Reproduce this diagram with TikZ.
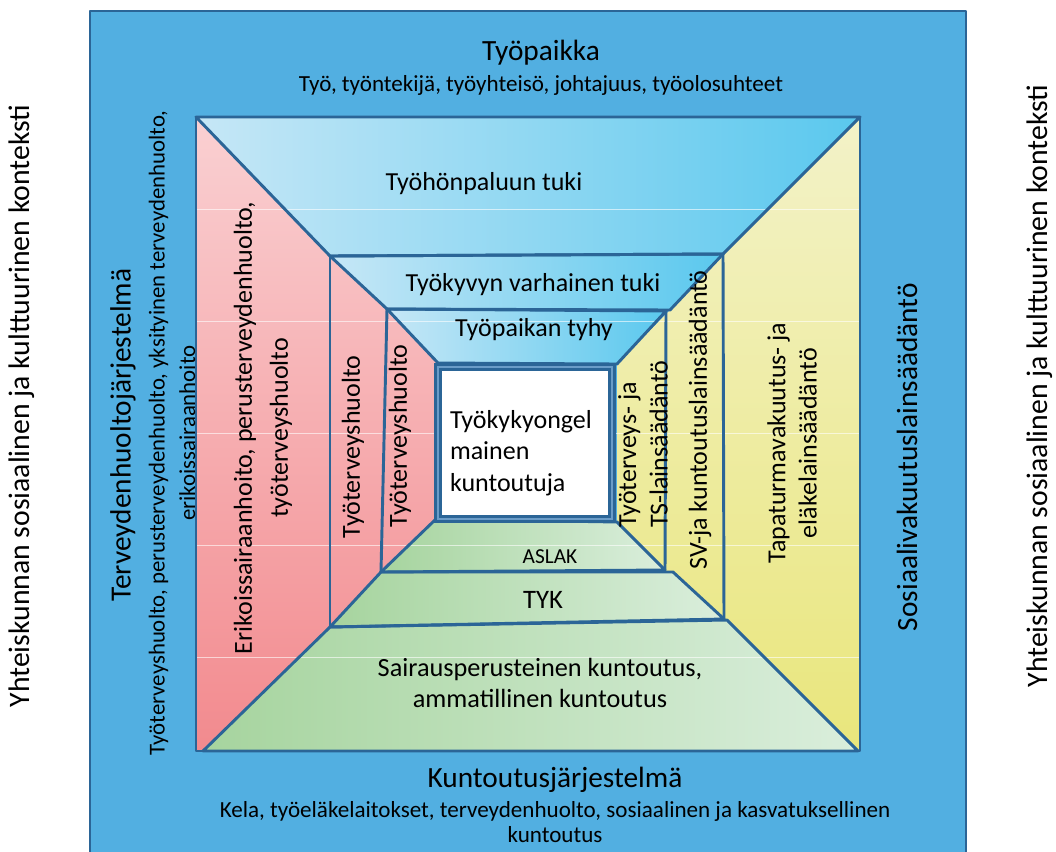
\documentclass[tikz,border=0pt]{standalone}
\usepackage{fontspec}
\setmainfont{Carlito}
\usetikzlibrary{positioning}

\definecolor{outerblue}{HTML}{52AFE1}
\definecolor{linecol}{HTML}{2B6597}
\definecolor{bluelight}{HTML}{C6E7F6}
\definecolor{bluedark}{HTML}{5AC8EE}
\definecolor{pinklight}{HTML}{FAD0D2}
\definecolor{pinkdark}{HTML}{F28A8E}
\definecolor{greendark}{HTML}{A6D49E}
\definecolor{greenlight}{HTML}{DAEEDC}
\definecolor{yellowlight}{HTML}{F3F2C8}
\definecolor{yellowdark}{HTML}{E9E67C}
\definecolor{boxmid}{HTML}{6A9CC8}

\begin{document}
\begin{tikzpicture}[
    % GLOBAL CFG
    x=0.75pt, y=-0.75pt,
    % Styles
    frame/.style={% dark blue outlines
        draw=linecol,
        line width=2.2pt,
        line join=round,
        },
    topband/.style={% blue bands on top
        left color=bluelight,
        right color=bluedark,
        },
    bottomband/.style={% green bands at the bottom
        left color=greendark,
        right color=greenlight,
        },
    gridline/.style={% faint white lines
        draw=white,
        opacity=0.6,
        line width=0.5pt,
        },
    title/.style={% system names
        font=\fontsize{22}{26}\selectfont,
        inner sep=0pt,
        },
    subtitle/.style={% lists under system names
        font=\fontsize{17.3}{18.8}\selectfont,
        inner sep=0pt,
        align=center,
        },
    bandtext/.style={% texts inside the room
        font=\fontsize{19.5}{23.5}\selectfont,
        inner sep=0pt,
        align=center,
        },
    smalltext/.style={% ASLAK
        font=\fontsize{16}{19}\selectfont,
        inner sep=0pt,
        },
    context/.style={% outside the big box
        font=\fontsize{22.3}{26}\selectfont,
        inner sep=0pt,
        rotate=90,
        },
    ]

\useasboundingbox (0,0) rectangle (1056,851);
\clip (0,0) rectangle (1056,851);

%Start drawing the thing...
    % Outer box
    \draw [frame, fill=outerblue] (90,11) rectangle (966,870);

    % Corners of the room
    \coordinate (ftl) at (196,117);
    \coordinate (ftr) at (860,117);
    \coordinate (fbr) at (860,751);
    \coordinate (fbl) at (196,751);
    \coordinate (ua1) at (330,256);  \coordinate (ua2) at (723,254);
    \coordinate (ub1) at (387,309);  \coordinate (ub2) at (670,310);
    \coordinate (uc1) at (438,363);  \coordinate (uc2) at (617,364);
    \coordinate (la1) at (436,519);  \coordinate (la2) at (617,522);
    \coordinate (lb1) at (381,572);  \coordinate (lb2) at (665,570);
    \coordinate (lb3) at (673,572);
    \coordinate (lc1) at (330,627);  \coordinate (lc2) at (724,619);
    \coordinate (ld1) at (203,751);  \coordinate (ld2) at (858,751);

    % Side walls
    \shade [top color=pinklight, bottom color=pinkdark]
        (ftl) -- (ua1) -- (ub1) -- (uc1) -- (la1) -- (lb1) -- (lc1) -- (ld1) -- (fbl) -- cycle;
    \shade [top color=yellowlight, bottom color=yellowdark]
        (ftr) -- (ua2) -- (ub2) -- (uc2) -- (la2) -- (lb2) -- (lc2) -- (ld2) -- (fbr) -- cycle;

    % Ceiling bands
    \shade [topband] (ftl) -- (ftr) -- (ua2) -- (ua1) -- cycle;
    \shade [topband] (ua1) -- (ua2) -- (ub2) -- (ub1) -- cycle;
    \shade [topband] (ub1) -- (666,311) -- (uc2) -- (uc1) -- cycle;

    % Floor bands
    \shade [bottomband] (la1) -- (la2) -- (lb2) -- (lb1) -- cycle;
    \shade [bottomband] (lb1) -- (lb3) -- (lc2) -- (lc1) -- cycle;
    \shade [bottomband] (lc1) -- (727,620) -- (ld2) -- (ld1) -- cycle;

    % Faint lines
    \foreach \yy in {209,321,433,545,657}
        \draw [gridline] (197,\yy) -- (859,\yy);

    % Outlines
    \draw [frame] (ftl) -- (ftr) -- (ua2) -- (ua1) -- cycle;
    \draw [frame] (ua1) -- (ua2) -- (ub2) -- (ub1) -- cycle;
    \draw [frame] (ub1) -- (666,311) -- (uc2) -- (uc1) -- cycle;
    \draw [frame] (la1) -- (la2) -- (lb2) -- (lb1) -- cycle;
    \draw [frame] (lb1) -- (lb3) -- (lc2) -- (lc1) -- cycle;
    \draw [frame] (lc1) -- (727,620) -- (ld2) -- (ld1) -- cycle;
    \draw [frame] (ua1) -- (lc1);
    \draw [frame] (ub1) -- (lb1);
    \draw [frame] (ua2) -- (lc2);
    \draw [frame] (666,311) -- (lb2);
    \draw [frame] (ftl) rectangle (fbr);

    % Client in the middle
    \draw [draw=linecol, line width=2.8pt, double=boxmid, double distance=0.9pt, fill=white]
        (438,367) rectangle (612,519);
    \node [bandtext, align=left, text width=114pt] (client) at (526,453)
        {Työkykyongel\\mainen\\kuntoutuja};

    % System names round the room
    \node [title] (tyopaikka) at (541,53) {Työpaikka};
    \node [subtitle] (tyopaikkasub) at (541,85)
        {Työ, työntekijä, työyhteisö, johtajuus, työolosuhteet};
    \node [title] (kuntoutus) at (555,780) {Kuntoutusjärjestelmä};
    \node [subtitle] (kuntoutussub) at (555,822)
        {Kela, työeläkelaitokset, terveydenhuolto, sosiaalinen ja kasvatuksellinen\\kuntoutus};
    \node [title, rotate=90] (terveys) at (123,435) {Terveydenhuoltojärjestelmä};
    \node [subtitle, rotate=90, font=\fontsize{17.1}{23}\selectfont] (terveyssub) at (172,433)
        {Työterveyshuolto, perusterveydenhuolto, yksityinen terveydenhuolto,\\erikoissairaanhoito};
    \node [title, rotate=90] (sosiaali) at (907,457) {Sosiaalivakuutuslainsäädäntö};

    % Context on both sides
    \node [context] (kontekstivasen) at (22,406) {Yhteiskunnan sosiaalinen ja kulttuurinen konteksti};
    \node [context] (kontekstioikea) at (1040,386) {Yhteiskunnan sosiaalinen ja kulttuurinen konteksti};

    % Ceiling texts
    \node [bandtext] (paluu) at (484,184) {Työhönpaluun tuki};
    \node [bandtext] (varhainen) at (533,285) {Työkyvyn varhainen tuki};
    \node [bandtext] (tyhy) at (534,330) {Työpaikan tyhy};

    % Floor texts
    \node [smalltext] (aslak) at (550,557) {ASLAK};
    \node [bandtext, font=\fontsize{20}{24}\selectfont] (tyk) at (543,600) {TYK};
    \node [bandtext, font=\fontsize{19.7}{23.5}\selectfont] (sairaus) at (540,683)
        {Sairausperusteinen kuntoutus,\\ammatillinen kuntoutus};

    % Left wall texts
    \node [bandtext, rotate=90, font=\fontsize{19.5}{27}\selectfont] (erikois) at (263,428)
        {Erikoissairaanhoito, perusterveydenhuolto,\\työterveyshuolto};
    \node [bandtext, rotate=90] (tth1) at (353,447) {Työterveyshuolto};
    \node [bandtext, rotate=90] (tth2) at (400,436) {Työterveyshuolto};

    % Right wall texts
    \node [bandtext, rotate=90, align=left, anchor=west] (tslaki) at (643,528)
        {Työterveys- ja\\TS-lainsäädäntö};
    \node [bandtext, rotate=90] (svlaki) at (700,420) {SV-ja kuntoutuslainsäädäntö};
    \node [bandtext, rotate=90] (tapaturma) at (792,443)
        {Tapaturmavakuutus- ja\\eläkelainsäädäntö};

\end{tikzpicture}
\end{document}
